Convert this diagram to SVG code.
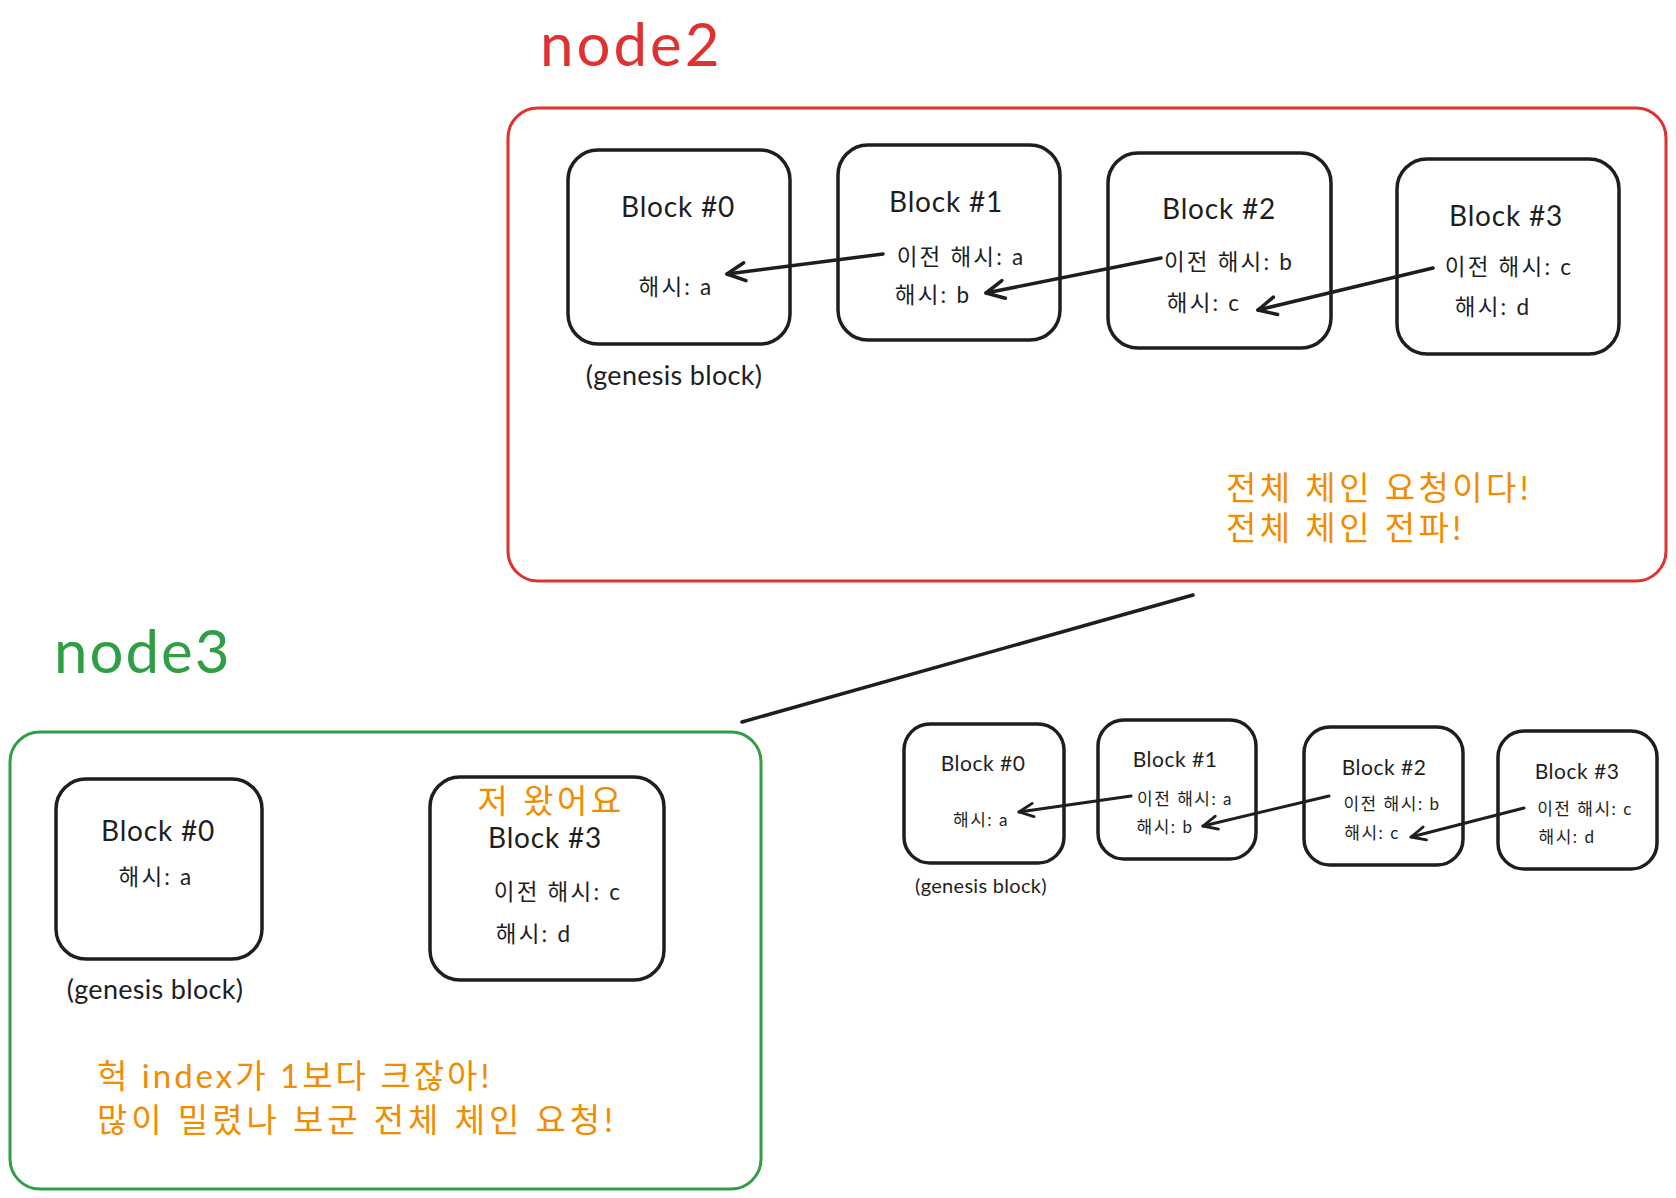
<svg xmlns="http://www.w3.org/2000/svg" width="1676" height="1198" viewBox="0 0 1676 1198">
<defs>
<style>
text{font-family:Lato,"Noto Sans CJK KR",sans-serif;fill:#1e1e1e;}
.blk{fill:none;stroke:#1e1e1e;stroke-width:3.5;}
.t1{font-size:28px;text-anchor:middle;letter-spacing:0.8px;}
.t2{font-size:22.5px;text-anchor:middle;letter-spacing:2.2px;}
.g1{font-size:27px;text-anchor:middle;letter-spacing:0.3px;}
.s1{font-size:21px;text-anchor:middle;letter-spacing:0.5px;}
.s2{font-size:17px;text-anchor:middle;letter-spacing:1.5px;}
.sg{font-size:20px;text-anchor:middle;letter-spacing:0.3px;}
.or{font-size:33px;fill:#f08c00;letter-spacing:3.4px;}
.title{font-size:60px;letter-spacing:3px;}
.arr{fill:none;stroke:#1e1e1e;stroke-width:3.5;stroke-linecap:round;}
.arrs{fill:none;stroke:#1e1e1e;stroke-width:3;stroke-linecap:round;}
</style>
<marker id="ah" viewBox="0 0 24 24" refX="21" refY="12" markerWidth="24" markerHeight="24" orient="auto" markerUnits="userSpaceOnUse"><path d="M3,3 L21,12 L3,21" fill="none" stroke="#1e1e1e" stroke-width="3.5" stroke-linecap="round" stroke-linejoin="round"/></marker>
<marker id="ahs" viewBox="0 0 20 20" refX="18" refY="10" markerWidth="19" markerHeight="19" orient="auto" markerUnits="userSpaceOnUse"><path d="M3,3 L18,10 L3,17" fill="none" stroke="#1e1e1e" stroke-width="3" stroke-linecap="round" stroke-linejoin="round"/></marker>
</defs>
<rect width="1676" height="1198" fill="#ffffff"/>

<g id="node2">
<text class="title" x="540" y="66" style="fill:#e03131">node2</text>
<rect x="508" y="108" width="1158" height="473" rx="30" fill="none" stroke="#e03131" stroke-width="3"/>
<text class="or" x="1226" y="500">전체 체인 요청이다!</text>
<text class="or" x="1226" y="540">전체 체인 전파!</text>
</g>

<g id="n2-block0">
<rect class="blk" x="568" y="150" width="222" height="194" rx="30"/>
<text class="t1" x="678" y="217">Block #0</text>
<text class="t2" x="676" y="295">해시: a</text>
<text class="g1" x="674" y="385">(genesis block)</text>
</g>
<g id="n2-block1">
<rect class="blk" x="838" y="145" width="222" height="195" rx="30"/>
<text class="t1" x="946" y="212">Block #1</text>
<text class="t2" x="961" y="265">이전 해시: a</text>
<text class="t2" x="933" y="303">해시: b</text>
</g>
<g id="n2-block2">
<rect class="blk" x="1108" y="153" width="223" height="195" rx="30"/>
<text class="t1" x="1219" y="219">Block #2</text>
<text class="t2" x="1229" y="270">이전 해시: b</text>
<text class="t2" x="1204" y="311">해시: c</text>
</g>
<g id="n2-block3">
<rect class="blk" x="1397" y="159" width="222" height="195" rx="30"/>
<text class="t1" x="1506" y="226">Block #3</text>
<text class="t2" x="1509" y="275">이전 해시: c</text>
<text class="t2" x="1493" y="315">해시: d</text>
</g>

<g id="node3">
<text class="title" x="54" y="673" style="fill:#2f9e44;letter-spacing:2px">node3</text>
<rect x="10" y="732" width="751" height="457" rx="30" fill="none" stroke="#2f9e44" stroke-width="3"/>
<text class="or" x="97" y="1088" style="letter-spacing:3px">헉 index가 1보다 크잖아!</text>
<text class="or" x="97" y="1132" style="letter-spacing:3.9px">많이 밀렸나 보군 전체 체인 요청!</text>
</g>
<g id="n3-block0">
<rect class="blk" x="56" y="779" width="206" height="180" rx="30"/>
<text class="t1" x="158" y="841">Block #0</text>
<text class="t2" x="156" y="885">해시: a</text>
<text class="g1" x="155" y="999">(genesis block)</text>
</g>
<g id="n3-block3">
<rect class="blk" x="430" y="777" width="234" height="203" rx="30"/>
<text class="or" x="551" y="813" style="text-anchor:middle">저 왔어요</text>
<text class="t1" x="545" y="848">Block #3</text>
<text class="t2" x="558" y="900">이전 해시: c</text>
<text class="t2" x="534" y="942">해시: d</text>
</g>

<g id="s-block0">
<rect class="blk" x="904" y="724" width="160" height="139" rx="26"/>
<text class="s1" x="983" y="771">Block #0</text>
<text class="s2" x="981" y="826">해시: a</text>
<text class="sg" x="981" y="893">(genesis block)</text>
</g>
<g id="s-block1">
<rect class="blk" x="1098" y="720" width="158" height="139" rx="26"/>
<text class="s1" x="1175" y="767">Block #1</text>
<text class="s2" x="1185" y="805">이전 해시: a</text>
<text class="s2" x="1165" y="833">해시: b</text>
</g>
<g id="s-block2">
<rect class="blk" x="1304" y="727" width="159" height="138" rx="26"/>
<text class="s1" x="1384" y="775">Block #2</text>
<text class="s2" x="1392" y="810">이전 해시: b</text>
<text class="s2" x="1372" y="839">해시: c</text>
</g>
<g id="s-block3">
<rect class="blk" x="1498" y="731" width="159" height="138" rx="26"/>
<text class="s1" x="1577" y="779">Block #3</text>
<text class="s2" x="1585" y="815">이전 해시: c</text>
<text class="s2" x="1567" y="843">해시: d</text>
</g>

<g id="connectors">
<line class="arr" x1="883" y1="254" x2="727" y2="274" marker-end="url(#ah)"/>
<line class="arr" x1="1161" y1="258" x2="986" y2="293" marker-end="url(#ah)"/>
<line class="arr" x1="1433" y1="268" x2="1258" y2="310" marker-end="url(#ah)"/>
<line class="arr" x1="1193" y1="595" x2="742" y2="722"/>
<line class="arrs" x1="1131" y1="796" x2="1019" y2="812" marker-end="url(#ahs)"/>
<line class="arrs" x1="1329" y1="796" x2="1203" y2="826" marker-end="url(#ahs)"/>
<line class="arrs" x1="1524" y1="808" x2="1411" y2="837" marker-end="url(#ahs)"/>
</g>
</svg>
